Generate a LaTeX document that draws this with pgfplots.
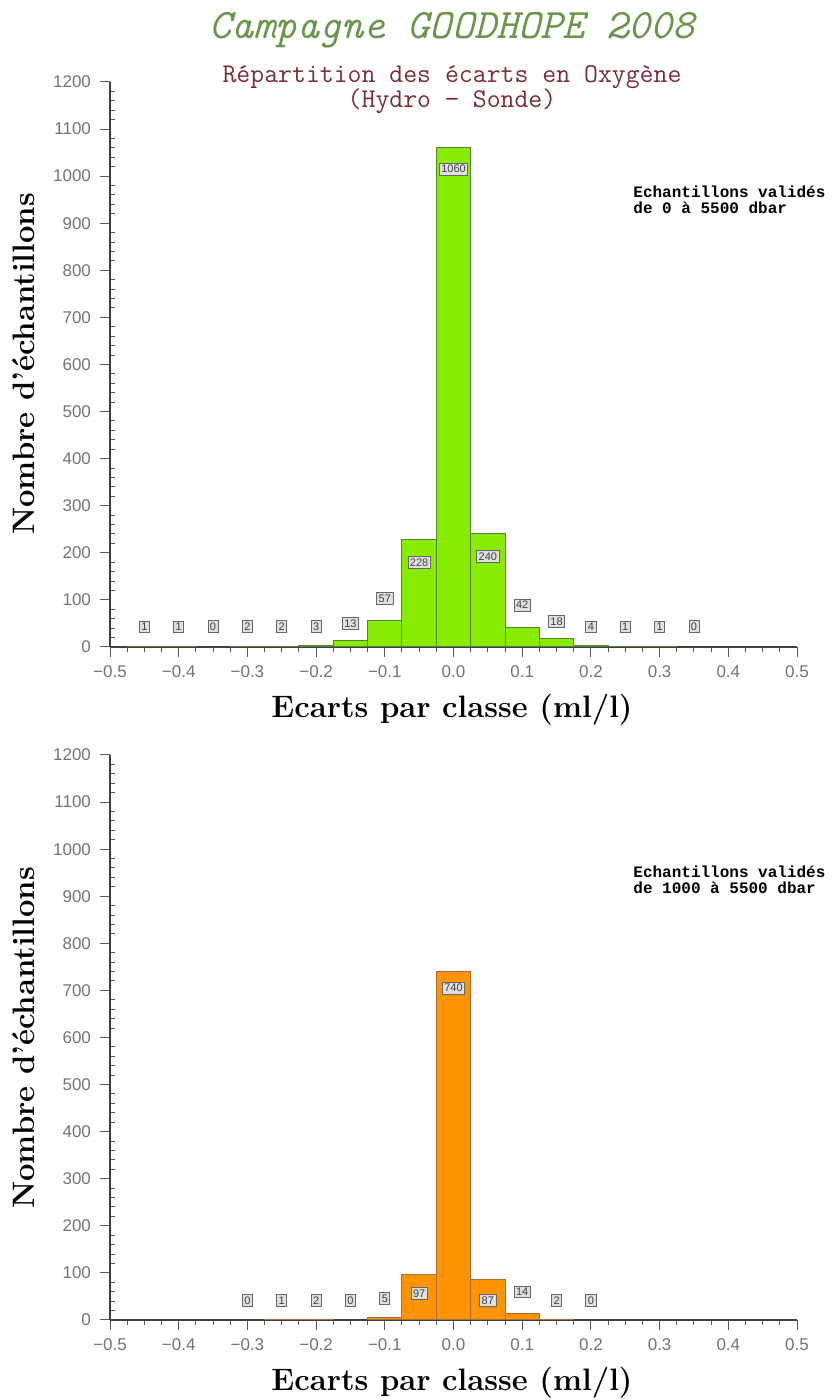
\documentclass[border=0pt]{standalone}
\usepackage{fontspec}
\usepackage{pgfplots}
\usepackage{pgfplotstable}
\pgfplotsset{compat=1.18}
\newfontfamily\tickfont{Liberation Sans}
\newfontfamily\monob{Liberation Mono}
\definecolor{titlegreen}{RGB}{105,150,75}
\definecolor{subred}{RGB}{120,45,50}
\definecolor{bargreen}{RGB}{135,236,0}
\definecolor{bargreenedge}{RGB}{90,130,55}
\definecolor{barorange}{RGB}{255,148,0}
\definecolor{barorangeedge}{RGB}{170,110,60}
\definecolor{tickgray}{RGB}{115,115,115}

\pgfplotstableread{
x y
-0.45 1
-0.40 1
-0.30 2
-0.25 2
-0.20 3
-0.15 13
-0.10 57
-0.05 228
0.00 1060
0.05 240
0.10 42
0.15 18
0.20 4
0.25 1
0.30 1
}\topdata

\pgfplotstableread{
x y lab
-0.45 43 1
-0.40 43 1
-0.35 43 0
-0.30 43 2
-0.25 43 2
-0.20 43 3
-0.15 50 13
-0.10 103 57
-0.05 180 228
0.00 1015 1060
0.05 192 240
0.10 89 42
0.15 54 18
0.20 43 4
0.25 43 1
0.30 43 1
0.35 43 0
}\toplabels

\pgfplotstableread{
x y
-0.25 1
-0.20 2
-0.10 5
-0.05 97
0.00 740
0.05 87
0.10 14
0.15 2
}\botdata

\pgfplotstableread{
x y lab
-0.30 42 0
-0.25 42 1
-0.20 42 2
-0.15 42 0
-0.10 46 5
-0.05 56 97
0.00 705 740
0.05 42 87
0.10 60 14
0.15 42 2
0.20 42 0
}\botlabels

\pgfplotsset{
  histo/.style={
    scale only axis,
    width=343.5pt, height=282.5pt,
    xmin=-0.5, xmax=0.5, ymin=0, ymax=1200,
    axis x line*=bottom, axis y line*=left,
    axis line style={black!75, line width=0.6pt, -},
    xtick={-0.5,-0.4,-0.3,-0.2,-0.1,0,0.1,0.2,0.3,0.4,0.5},
    xticklabels={−0.5,−0.4,−0.3,−0.2,−0.1,0.0,0.1,0.2,0.3,0.4,0.5},
    minor x tick num=3,
    ytick={0,100,...,1200},
    minor y tick num=4,
    tick align=outside,
    major tick length=5pt, minor tick length=2.5pt,
    every tick/.style={black!65, line width=0.5pt},
    minor y tick style={xshift=2.5pt},
    ticklabel style={font=\tickfont\fontsize{8.5}{9}\selectfont, text=tickgray},
    xticklabel style={yshift=-1pt},
    yticklabel style={xshift=-1pt},
    /pgf/number format/assume math mode=true,
    /pgf/number format/1000 sep={},
    clip=false,
  },
  lbl/.style={
    draw=none, nodes near coords, point meta=explicit symbolic,
    every node near coord/.append style={anchor=center, draw=black!60, fill=black!12,
      inner sep=1pt, font=\tickfont\fontsize{5.5}{5.5}\selectfont, text=black!75, rectangle},
  },
}

\begin{document}
\begin{tikzpicture}
\path[use as bounding box] (0,0) rectangle (415.5pt,700pt);

% ---- top axis
\begin{axis}[histo, at={(55pt,376.5pt)}, anchor=south west]
\addplot[ybar, bar width=0.05, fill=bargreen, draw=bargreenedge, line width=0.5pt] table[x=x,y=y] {\topdata};
\addplot[lbl] table[x=x,y=y,meta=lab] {\toplabels};
\end{axis}

% ---- bottom axis
\begin{axis}[histo, at={(55pt,40pt)}, anchor=south west]
\addplot[ybar, bar width=0.05, fill=barorange, draw=barorangeedge, line width=0.5pt] table[x=x,y=y] {\botdata};
\addplot[lbl] table[x=x,y=y,meta=lab] {\botlabels};
\end{axis}

% ---- titles
\node[text=titlegreen, font=\ttfamily\itshape\fontsize{21}{23}\selectfont] at (226pt,685pt) {Campagne GOODHOPE 2008};
\node[text=subred, font=\ttfamily\fontsize{13.5}{14}\selectfont] at (226pt,661.5pt) {Répartition des écarts en Oxygène};
\node[text=subred, font=\ttfamily\fontsize{13.5}{14}\selectfont] at (226pt,649.5pt) {(Hydro − Sonde)};

% ---- axis labels
\node[font=\bfseries\fontsize{15.5}{16}\selectfont] at (226pt,345pt) {Ecarts par classe (ml/l)};
\node[font=\bfseries\fontsize{15.5}{16}\selectfont] at (226pt,8.5pt) {Ecarts par classe (ml/l)};
\node[font=\bfseries\fontsize{15.5}{16}\selectfont, rotate=90] at (12pt,518pt) {Nombre d'échantillons};
\node[font=\bfseries\fontsize{15.5}{16}\selectfont, rotate=90] at (12pt,181pt) {Nombre d'échantillons};

% ---- annotations
\node[anchor=west, align=left, inner sep=0pt, font=\monob\bfseries\fontsize{8}{8}\selectfont] at (316.5pt,600pt) {Echantillons validés\\de 0 à 5500 dbar};
\node[anchor=west, align=left, inner sep=0pt, font=\monob\bfseries\fontsize{8}{8}\selectfont] at (316.5pt,260pt) {Echantillons validés\\de 1000 à 5500 dbar};
\end{tikzpicture}
\end{document}
